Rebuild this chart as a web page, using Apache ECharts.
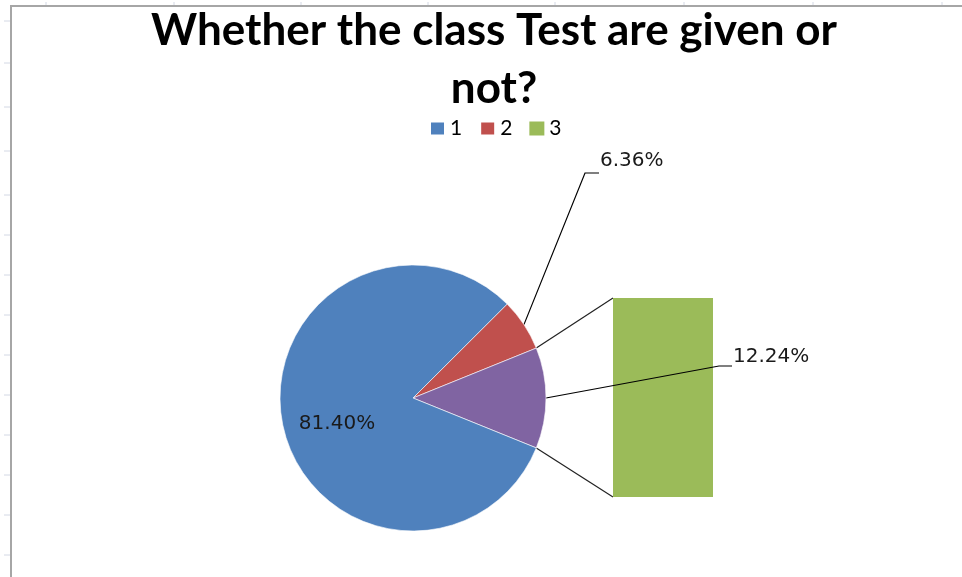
<!DOCTYPE html>
<html>
<head>
<meta charset="utf-8">
<script src="https://cdn.jsdelivr.net/npm/echarts@6/dist/echarts.min.js"></script>
<style>
  html, body { margin: 0; padding: 0; background: #fff; }
  #chart { width: 962px; height: 577px; }
</style>
</head>
<body>
<div id="chart"></div>
<script>
// values (percent of answers)
const categories = ["1", "2", "3"];
const shares = [81.40, 6.36, 12.24];
const colors = ["#4F81BD", "#C0504D", "#9BBB59"];
const otherColor = "#8064A2"; // pie slice that stands for the bar

const fmt = v => v.toFixed(2) + "%";

// geometry
const cx = 413, cy = 398, r = 133;
const total = shares.reduce((a, b) => a + b, 0);
const degRed = shares[1] / total * 360;
const degOther = shares[2] / total * 360;
// the "other" slice sits centred on the right side
const startAngle = degOther / 2 + degRed;

const chart = echarts.init(document.getElementById("chart"));

chart.setOption({
  backgroundColor: "#fff",
  animation: false,
  title: {
    text: "Whether the class Test are given or\nnot?",
    left: 489,
    top: -3,
    textAlign: "center",
    textStyle: {
      fontFamily: "Lato",
      fontWeight: "bold",
      fontSize: 44,
      lineHeight: 58,
      color: "#000"
    }
  },
  legend: {
    data: categories,
    left: 424,
    top: 113,
    itemWidth: 15,
    itemHeight: 14,
    itemGap: 17,
    icon: "rect",
    textStyle: { fontFamily: "Lato", fontSize: 21, color: "#000" }
  },
  grid: { left: 613, top: 298, width: 100, height: 199 },
  xAxis: { type: "category", data: [categories[2]], show: false },
  yAxis: { type: "value", min: 0, max: shares[2], show: false },
  series: [
    {
      type: "pie",
      z: 5,
      center: [cx, cy],
      radius: r,
      startAngle: startAngle,
      clockwise: true,
      label: {
        fontFamily: "DejaVu Sans",
        fontSize: 20,
        color: "#1a1a1a",
        formatter: p => fmt(p.value)
      },
      labelLine: { lineStyle: { color: "#000", width: 1.2 } },
      itemStyle: { borderColor: "#fff", borderWidth: 0.6 },
      labelLayout: function (p) {
        const pts = p.labelLinePoints;
        if (p.dataIndex === 0) {
          return {
            x: 600, y: 161, align: "left", verticalAlign: "middle",
            labelLinePoints: pts ? [pts[0], [585, 173], [599, 173]] : undefined
          };
        }
        if (p.dataIndex === 1) {
          return {
            x: 733, y: 357, align: "left", verticalAlign: "middle",
            labelLinePoints: pts ? [pts[0], [719, 366], [732, 366]] : undefined
          };
        }
        return { x: 337, y: 424, align: "center", verticalAlign: "middle" };
      },
      data: [
        { name: categories[1], value: shares[1], itemStyle: { color: colors[1] } },
        { name: "Other", value: shares[2], itemStyle: { color: otherColor } },
        {
          name: categories[0], value: shares[0], itemStyle: { color: colors[0] },
          label: { position: "inside" }, labelLine: { show: false }
        }
      ]
    },
    {
      type: "bar",
      name: categories[2],
      z: 2,
      barWidth: "100%",
      itemStyle: { color: colors[2] },
      data: [shares[2]]
    }
  ]
});

// connector lines from the "other" slice to the bar, plus the sheet frame
const rad = d => d * Math.PI / 180;
const a1 = startAngle - degRed;
const a2 = a1 - degOther;
const p1 = [cx + r * Math.cos(rad(a1)), cy - r * Math.sin(rad(a1))];
const p2 = [cx + r * Math.cos(rad(a2)), cy - r * Math.sin(rad(a2))];
const topPx = chart.convertToPixel({ xAxisIndex: 0, yAxisIndex: 0 }, [categories[2], shares[2]]);
const botPx = chart.convertToPixel({ xAxisIndex: 0, yAxisIndex: 0 }, [categories[2], 0]);
const barLeft = topPx[0] - 50;

const graphics = [
  {
    type: "rect", z: -1, silent: true,
    shape: { x: 11, y: 6, width: 980, height: 600 },
    style: { fill: "none", stroke: "#a6a6a6", lineWidth: 2 }
  },
  {
    type: "polyline", silent: true,
    shape: { points: [p1, [barLeft, topPx[1]]] },
    style: { stroke: "#222", lineWidth: 1.2, fill: null }
  },
  {
    type: "polyline", silent: true,
    shape: { points: [p2, [barLeft, botPx[1]]] },
    style: { stroke: "#222", lineWidth: 1.2, fill: null }
  }
];
// faint sheet row / column marks outside the frame
[21, 63, 107, 151, 195, 235, 275, 315, 355, 395, 435, 475, 515, 555].forEach(y => {
  graphics.push({ type: "line", silent: true, shape: { x1: 4, y1: y, x2: 10, y2: y }, style: { stroke: "#d3d8e4", lineWidth: 1 } });
});
[46, 174, 301, 428, 555, 684, 813, 942].forEach(x => {
  graphics.push({ type: "line", silent: true, shape: { x1: x, y1: 2, x2: x, y2: 5 }, style: { stroke: "#d3d8e4", lineWidth: 1 } });
});
chart.setOption({ graphic: graphics });
</script>
</body>
</html>
